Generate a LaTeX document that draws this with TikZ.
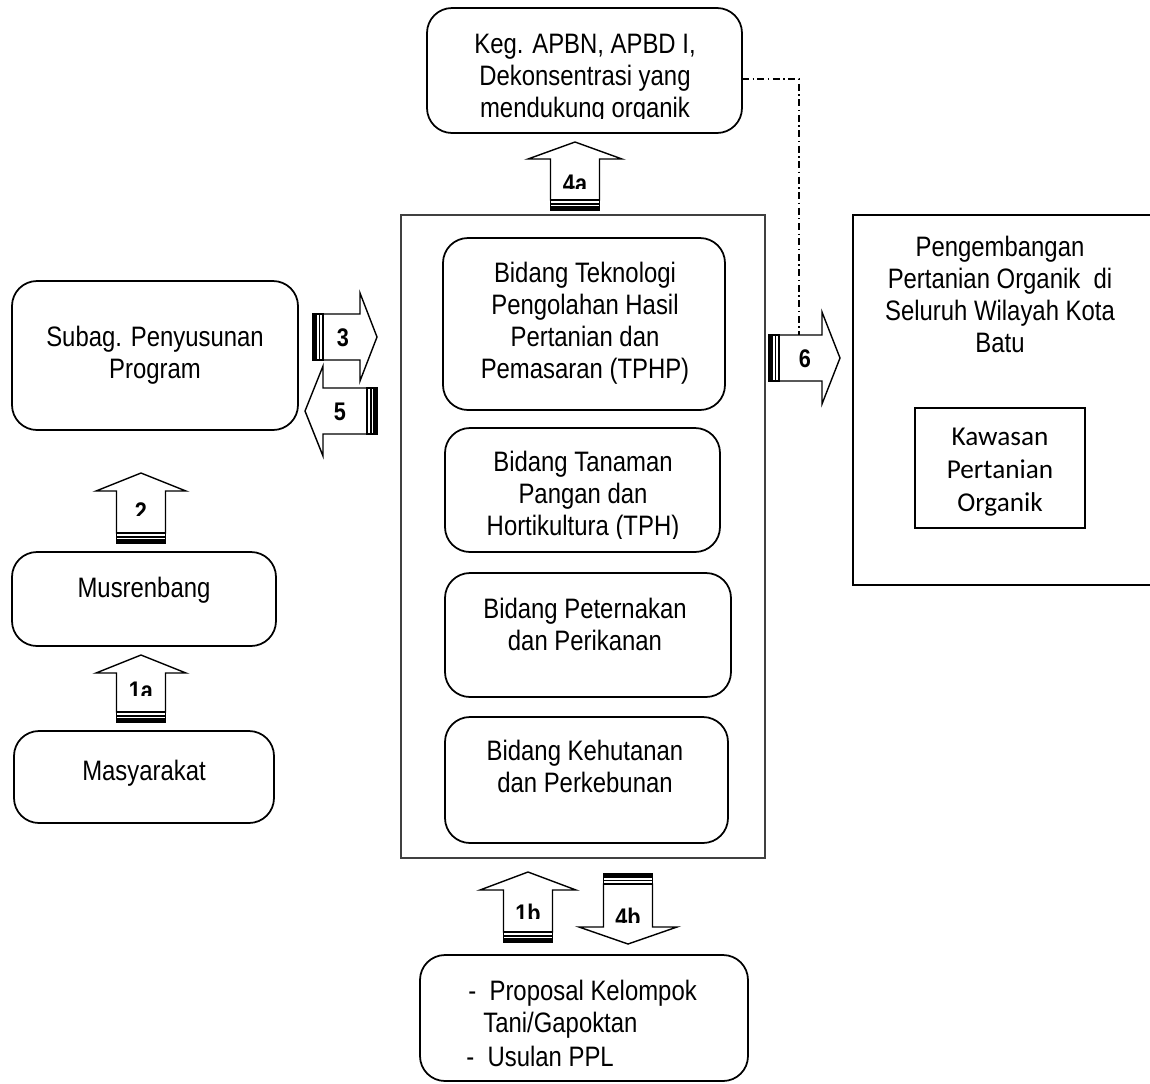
\documentclass[tikz,border=0pt]{standalone}
\usepackage{fontspec}
\setmainfont{Liberation Sans}
\newfontfamily\narrowfont[FakeStretch=0.85]{Liberation Sans}
\newfontfamily\calibrifont{Carlito}

% box given by its corners (x1,y1) and (x2,y2), in pixel units
\newcommand\boxnode[6]{%
  \node[#6, minimum width={(#4-#2)*0.02cm}, minimum height={(#5-#3)*0.02cm}]
    (#1) at ({(#2+#4)/2},{(#3+#5)/2}) {};}

% block arrow along +x with a striped tail at the origin:
% #1 length, #2 shaft half width, #3 head half width, #4 head length
\newcommand\stripedarrow[4]{%
  \draw[arrowline] (10,-#2) -- ({#1-#4},-#2) -- ({#1-#4},-#3) -- (#1,0)
    -- ({#1-#4},#3) -- ({#1-#4},#2) -- (10,#2) -- cycle;
  \draw[arrowline] (0,-#2) rectangle (10,#2);
  \fill (0,-#2) rectangle (4,#2);
  \fill (5.5,-#2) rectangle (7,#2);}

\begin{document}
\begin{tikzpicture}[x=0.02cm, y=-0.02cm,
  rbox/.style={draw, line width=1pt, rounded corners=0.5cm, inner sep=0pt, outer sep=0pt},
  frame/.style={draw=black!75, line width=0.6pt, inner sep=0pt, outer sep=0pt},
  heavybox/.style={draw, line width=1.4pt, inner sep=0pt, outer sep=0pt},
  innerbox/.style={draw, line width=1.1pt, inner sep=0pt, outer sep=0pt},
  txt/.style={font=\narrowfont\fontsize{16}{18.2}\selectfont, align=center, inner sep=0pt},
  ctxt/.style={font=\calibrifont\fontsize{15.5}{18.6}\selectfont, align=center, inner sep=0pt},
  lbl/.style={font=\narrowfont\fontsize{14.5}{16}\selectfont\bfseries, inner sep=0pt},
  arrowline/.style={draw, line width=0.8pt, line join=miter, fill=white},
  dashdot/.style={line width=0.7pt, dash pattern=on 4pt off 2pt on 0.8pt off 2pt}]
\useasboundingbox (0,0) rectangle (1150,1083);

% ---------- top box ----------
\boxnode{keg}{427}{8}{742}{133}{rbox}
\begin{scope}
  \clip (427,8) rectangle (742,118);
  \node[txt] (kegT) at (585,79) {Keg. APBN, APBD I,\\Dekonsentrasi yang\\mendukung organik};
\end{scope}

% ---------- central frame with the four divisions ----------
\boxnode{pusat}{401}{215}{765}{858}{frame}
\boxnode{tphp}{443}{238}{725}{410}{rbox}
\node[txt] (tphpT) at (585,323) {Bidang Teknologi\\Pengolahan Hasil\\Pertanian dan\\Pemasaran (TPHP)};
\boxnode{tph}{445}{428}{720}{552}{rbox}
\begin{scope}
  \clip (445,428) rectangle (720,538);
  \node[txt] (tphT) at (583,496) {Bidang Tanaman\\Pangan dan\\Hortikultura (TPH)};
\end{scope}
\boxnode{ternak}{445}{573}{731}{697}{rbox}
\node[txt] (ternakT) at (585,624) {Bidang Peternakan\\dan Perikanan};
\boxnode{hutan}{445}{717}{728}{843}{rbox}
\node[txt] (hutanT) at (585,766) {Bidang Kehutanan\\dan Perkebunan};

% ---------- left column ----------
\boxnode{subag}{12}{281}{298}{430}{rbox}
\node[txt] (subagT) at (155,355) {Subag. Penyusunan\\Program};
\boxnode{musren}{12}{552}{276}{646}{rbox}
\node[txt] (musrenT) at (144,590) {Musrenbang};
\boxnode{masy}{14}{731}{274}{823}{rbox}
\node[txt] (masyT) at (144,773) {Masyarakat};

% ---------- bottom box ----------
\boxnode{usul}{420}{955}{748}{1081}{rbox}
\node[txt, anchor=west] (usul1) at (468,993) {-\ \ Proposal Kelompok};
\node[txt, anchor=west] (usul2) at (483,1025) {Tani/Gapoktan};
\node[txt, anchor=west] (usul3) at (466,1056) {-\ \ Usulan PPL};

% ---------- right box ----------
\boxnode{dev}{853}{215}{1165}{585}{heavybox}
\node[txt] (devT) at (1000,294) {Pengembangan\\Pertanian Organik\ \ di\\Seluruh Wilayah Kota\\Batu};
\boxnode{kawasan}{915}{408}{1085}{528}{innerbox}
\node[ctxt] (kawasanT) at (1000,472) {Kawasan\\Pertanian\\Organik};

% ---------- striped block arrows ----------
% 4a : up into the top box
\begin{scope}[shift={(575,210)}, rotate=90] \stripedarrow{68}{24.5}{47}{17} \end{scope}
\begin{scope} \clip (550,160) rectangle (600,188);
  \node[lbl] (l4a) at (575,184) {4a}; \end{scope}
% 2 : Musrenbang up to Subag
\begin{scope}[shift={(141,543)}, rotate=90] \stripedarrow{70}{24.5}{45}{18} \end{scope}
\begin{scope} \clip (116,490) rectangle (166,515);
  \node[lbl] (l2) at (141,512) {2}; \end{scope}
% 1a : Masyarakat up to Musrenbang
\begin{scope}[shift={(141,722)}, rotate=90] \stripedarrow{67}{24.5}{45}{18} \end{scope}
\begin{scope} \clip (116,672) rectangle (166,695);
  \node[lbl] (l1a) at (141,691) {1a}; \end{scope}
% 1b : proposals up to the divisions
\begin{scope}[shift={(528,942)}, rotate=90] \stripedarrow{70}{24.5}{48}{18} \end{scope}
\begin{scope} \clip (503,890) rectangle (553,918);
  \node[lbl] (l1b) at (528,913) {1b}; \end{scope}
% 4b : divisions down to proposals
\begin{scope}[shift={(628,874)}, rotate=-90] \stripedarrow{70}{24.5}{49}{17} \end{scope}
\begin{scope} \clip (603,886) rectangle (653,922);
  \node[lbl] (l4b) at (628,917) {4b}; \end{scope}
% 3 : Subag right to the divisions
\begin{scope}[shift={(313,337)}] \stripedarrow{64}{23}{44}{17} \end{scope}
\node[lbl] (l3) at (343,338) {3};
% 5 : divisions left back to Subag
\begin{scope}[shift={(377,411)}, rotate=180] \stripedarrow{72}{23}{45}{18} \end{scope}
\node[lbl] (l5) at (340,412) {5};
% 6 : divisions right to the development box
\begin{scope}[shift={(769,358)}] \stripedarrow{71}{23}{46}{18} \end{scope}
\node[lbl] (l6) at (805,359) {6};

% ---------- dash-dot link from the top box to arrow 6 ----------
\coordinate (a6top) at (799,335);
\draw[dashdot] ([yshift=-0.17cm]keg.east) -| (a6top);
\end{tikzpicture}
\end{document}
